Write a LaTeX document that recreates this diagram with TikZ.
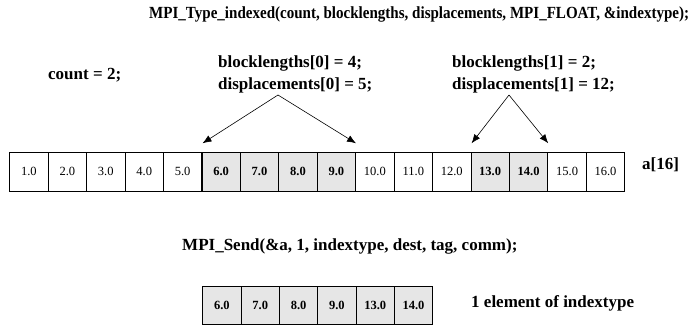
\documentclass[tikz,border=0pt]{standalone}
\usepackage{fontspec}
\setmainfont{Liberation Serif}
\usetikzlibrary{arrows.meta,calc}
\definecolor{cellgray}{RGB}{230,230,230}
\tikzset{
  cell/.style={draw=black, line width=0.8pt, minimum width=38.4pt, minimum height=38.4pt, inner sep=0pt, anchor=north west, font=\fontsize{12.5}{14}\selectfont},
  hcell/.style={cell, fill=cellgray, font=\fontsize{12.5}{14}\selectfont\bfseries},
  lbl/.style={inner sep=0pt, font=\fontsize{17}{20}\selectfont\bfseries},
  arr/.style={-{Latex[length=9pt,width=7pt]}, line width=0.6pt}
}
\begin{document}
\begin{tikzpicture}[x=1pt,y=-1pt]
\useasboundingbox (0,0) rectangle (691,326);
% title
\node[lbl, anchor=west] (title) at (149,14) {\scalebox{0.885}[1]{MPI\_Type\_indexed(count, blocklengths, displacements, MPI\_FLOAT, \&indextype);}};
\node[lbl, anchor=west] (cnt) at (48,75) {count = 2;};
\node[lbl, anchor=west] (bl0) at (218,63) {blocklengths[0] = 4;};
\node[lbl, anchor=west] (ds0) at (218,85) {displacements[0] = 5;};
\node[lbl, anchor=west] (bl1) at (452,63) {blocklengths[1] = 2;};
\node[lbl, anchor=west] (ds1) at (452,85) {displacements[1] = 12;};
% top array
\foreach \i/\v in {1/1.0,2/2.0,3/3.0,4/4.0,5/5.0,10/10.0,11/11.0,12/12.0,15/15.0,16/16.0}{
  \node[cell] (t\i) at ({9.3+(\i-1)*38.44},152.3) {\v};
}
\foreach \i/\v in {6/6.0,7/7.0,8/8.0,9/9.0,13/13.0,14/14.0}{
  \node[hcell] (t\i) at ({9.3+(\i-1)*38.44},152.3) {\v};
}
\node[lbl, anchor=west] (a16) at (642,165) {a[16]};
% arrows
\coordinate (ap0) at (278,95);
\coordinate (ap1) at (509,95);
\draw[arr] (ap0) -- ($(t6.north west)+(1,-9)$);
\draw[arr] (ap0) -- ($(t9.north east)+(0,-9)$);
\draw[arr] (ap1) -- ($(t13.north west)+(1,-9)$);
\draw[arr] (ap1) -- ($(t14.north east)+(0,-9)$);
% send
\node[lbl, anchor=west] (send) at (182,246) {MPI\_Send(\&a, 1, indextype, dest, tag, comm);};
% bottom array
\foreach \i/\v in {1/6.0,2/7.0,3/8.0,4/9.0,5/13.0,6/14.0}{
  \node[hcell] (b\i) at ({202.3+(\i-1)*38.33},286) {\v};
}
\node[lbl, anchor=west] (elem) at (471,303) {1 element of indextype};
\end{tikzpicture}
\end{document}
